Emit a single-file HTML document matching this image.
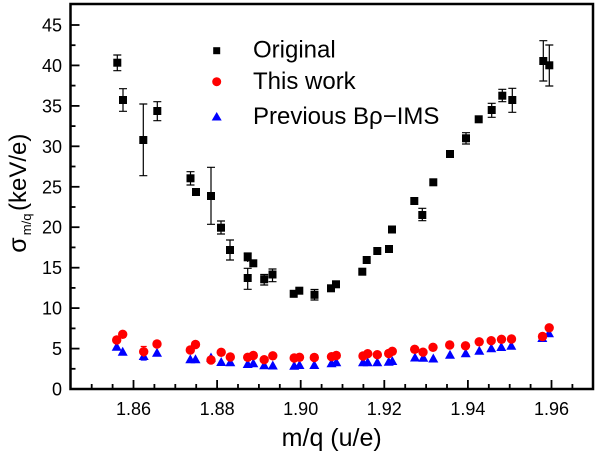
<!DOCTYPE html>
<html><head><meta charset="utf-8"><style>
html,body{margin:0;padding:0;background:#fff;}
svg{display:block;font-family:"Liberation Sans",Arial,sans-serif;}
</style></head><body>
<svg width="600" height="454" viewBox="0 0 600 454" xmlns="http://www.w3.org/2000/svg">
<rect width="600" height="454" fill="#fff"/>
<!-- ticks -->
<g stroke="#000" stroke-width="1.8">
<!-- y major -->
<line x1="70.5" y1="348.6" x2="79.5" y2="348.6"/>
<line x1="70.5" y1="308.1" x2="79.5" y2="308.1"/>
<line x1="70.5" y1="267.7" x2="79.5" y2="267.7"/>
<line x1="70.5" y1="227.2" x2="79.5" y2="227.2"/>
<line x1="70.5" y1="186.8" x2="79.5" y2="186.8"/>
<line x1="70.5" y1="146.3" x2="79.5" y2="146.3"/>
<line x1="70.5" y1="105.9" x2="79.5" y2="105.9"/>
<line x1="70.5" y1="65.4" x2="79.5" y2="65.4"/>
<line x1="70.5" y1="25" x2="79.5" y2="25"/>
<!-- y minor -->
<line x1="70.5" y1="368.8" x2="75.5" y2="368.8"/>
<line x1="70.5" y1="328.4" x2="75.5" y2="328.4"/>
<line x1="70.5" y1="287.9" x2="75.5" y2="287.9"/>
<line x1="70.5" y1="247.4" x2="75.5" y2="247.4"/>
<line x1="70.5" y1="207" x2="75.5" y2="207"/>
<line x1="70.5" y1="166.5" x2="75.5" y2="166.5"/>
<line x1="70.5" y1="126.1" x2="75.5" y2="126.1"/>
<line x1="70.5" y1="85.6" x2="75.5" y2="85.6"/>
<line x1="70.5" y1="45.2" x2="75.5" y2="45.2"/>
<!-- x major -->
<line x1="133.5" y1="389" x2="133.5" y2="380"/>
<line x1="217.1" y1="389" x2="217.1" y2="380"/>
<line x1="300.7" y1="389" x2="300.7" y2="380"/>
<line x1="384.3" y1="389" x2="384.3" y2="380"/>
<line x1="467.9" y1="389" x2="467.9" y2="380"/>
<line x1="551.5" y1="389" x2="551.5" y2="380"/>
<!-- x minor -->
<line x1="91.7" y1="389" x2="91.7" y2="384"/>
<line x1="112.6" y1="389" x2="112.6" y2="384"/>
<line x1="154.4" y1="389" x2="154.4" y2="384"/>
<line x1="175.3" y1="389" x2="175.3" y2="384"/>
<line x1="196.2" y1="389" x2="196.2" y2="384"/>
<line x1="238" y1="389" x2="238" y2="384"/>
<line x1="258.9" y1="389" x2="258.9" y2="384"/>
<line x1="279.8" y1="389" x2="279.8" y2="384"/>
<line x1="321.6" y1="389" x2="321.6" y2="384"/>
<line x1="342.5" y1="389" x2="342.5" y2="384"/>
<line x1="363.4" y1="389" x2="363.4" y2="384"/>
<line x1="405.2" y1="389" x2="405.2" y2="384"/>
<line x1="426.1" y1="389" x2="426.1" y2="384"/>
<line x1="447" y1="389" x2="447" y2="384"/>
<line x1="488.8" y1="389" x2="488.8" y2="384"/>
<line x1="509.7" y1="389" x2="509.7" y2="384"/>
<line x1="530.6" y1="389" x2="530.6" y2="384"/>
<line x1="572.4" y1="389" x2="572.4" y2="384"/>
</g>
<!-- frame -->
<rect x="70.5" y="4" width="522.5" height="385" fill="none" stroke="#000" stroke-width="2.5"/>

<!-- tick labels -->
<g font-size="18" fill="#000" text-anchor="end">
<text x="62" y="395.5">0</text>
<text x="62" y="355.1">5</text>
<text x="62" y="314.6">10</text>
<text x="62" y="274.2">15</text>
<text x="62" y="233.7">20</text>
<text x="62" y="193.3">25</text>
<text x="62" y="152.8">30</text>
<text x="62" y="112.4">35</text>
<text x="62" y="71.9">40</text>
<text x="62" y="31.5">45</text>
</g>
<g font-size="18" fill="#000" text-anchor="middle">
<text x="133.5" y="415">1.86</text>
<text x="217.1" y="415">1.88</text>
<text x="300.7" y="415">1.90</text>
<text x="384.3" y="415">1.92</text>
<text x="467.9" y="415">1.94</text>
<text x="551.5" y="415">1.96</text>
</g>
<!-- axis titles -->
<text x="331.7" y="446" font-size="25" text-anchor="middle" fill="#000">m/q (u/e)</text>
<g transform="translate(26,252.7) rotate(-90)" fill="#000">
<text x="0" y="0" font-size="25">σ</text>
<text x="17.5" y="5" font-size="13">m/q</text>
<text x="41.7" y="0" font-size="24">(keV/e)</text>
</g>

<!-- black error bars -->
<g stroke="#000" stroke-width="1.2" fill="none">
<path d="M117.3 55V70.7M113.3 55H121.3M113.3 70.7H121.3"/>
<path d="M123 88.7V111.3M119 88.7H127M119 111.3H127"/>
<path d="M143.3 104V175.7M139.3 104H147.3M139.3 175.7H147.3"/>
<path d="M157.3 101.7V120.7M153.3 101.7H161.3M153.3 120.7H161.3"/>
<path d="M190.5 171.7V185M186.5 171.7H194.5M186.5 185H194.5"/>
<path d="M211 167.3V224.3M207 167.3H215M207 224.3H215"/>
<path d="M221 221V234M217 221H225M217 234H225"/>
<path d="M230 240V260M226 240H234M226 260H234"/>
<path d="M247.7 253V262M243.7 253H251.7"/>
<path d="M247.7 268.3V289.3M243.7 268.3H251.7M243.7 289.3H251.7"/>
<path d="M264.2 274.5V285M260.2 274.5H268.2M260.2 285H268.2"/>
<path d="M272.5 269V281.7M268.5 269H276.5M268.5 281.7H276.5"/>
<path d="M314.5 289.5V300M310.5 289.5H318.5M310.5 300H318.5"/>
<path d="M422.3 208.3V220.7M418.3 208.3H426.3M418.3 220.7H426.3"/>
<path d="M466 132.7V144M462 132.7H470M462 144H470"/>
<path d="M491.7 103.3V117.3M487.7 103.3H495.7M487.7 117.3H495.7"/>
<path d="M502.3 89.3V101.7M498.3 89.3H506.3M498.3 101.7H506.3"/>
<path d="M512.3 88.3V112.3M508.3 88.3H516.3M508.3 112.3H516.3"/>
<path d="M543.3 40.7V81M539.3 40.7H547.3M539.3 81H547.3"/>
<path d="M549.3 45V86M545.3 45H553.3M545.3 86H553.3"/>
</g>
<!-- black squares -->
<g fill="#000">
<rect x="113.3" y="58.7" width="8" height="8"/>
<rect x="119" y="96" width="8" height="8"/>
<rect x="139.3" y="136" width="8" height="8"/>
<rect x="153.3" y="107" width="8" height="8"/>
<rect x="186.5" y="174.3" width="8" height="8"/>
<rect x="192" y="188" width="8" height="8"/>
<rect x="207" y="192" width="8" height="8"/>
<rect x="217" y="223.7" width="8" height="8"/>
<rect x="226" y="246" width="8" height="8"/>
<rect x="243.7" y="253.3" width="8" height="8"/>
<rect x="249.3" y="259.3" width="8" height="8"/>
<rect x="243.7" y="274" width="8" height="8"/>
<rect x="260.2" y="275.3" width="8" height="8"/>
<rect x="268.5" y="270.5" width="8" height="8"/>
<rect x="289.7" y="289.8" width="8" height="8"/>
<rect x="295.3" y="286.7" width="8" height="8"/>
<rect x="310.5" y="290.8" width="8" height="8"/>
<rect x="327" y="284.3" width="8" height="8"/>
<rect x="332" y="280.3" width="8" height="8"/>
<rect x="358.3" y="267.7" width="8" height="8"/>
<rect x="362.7" y="256" width="8" height="8"/>
<rect x="373.3" y="247" width="8" height="8"/>
<rect x="385" y="245" width="8" height="8"/>
<rect x="388" y="225.5" width="8" height="8"/>
<rect x="410.3" y="197" width="8" height="8"/>
<rect x="418.3" y="211" width="8" height="8"/>
<rect x="429.3" y="178.3" width="8" height="8"/>
<rect x="446" y="150" width="8" height="8"/>
<rect x="462" y="134.3" width="8" height="8"/>
<rect x="474.7" y="115.3" width="8" height="8"/>
<rect x="487.7" y="106" width="8" height="8"/>
<rect x="498.3" y="91.7" width="8" height="8"/>
<rect x="508.3" y="96" width="8" height="8"/>
<rect x="539.3" y="57" width="8" height="8"/>
<rect x="545.3" y="61.3" width="8" height="8"/>
</g>

<!-- blue error bar -->
<path d="M143.7 353V360M140.7 353H146.7M140.7 360H146.7" stroke="#0000ff" stroke-width="1.2" fill="none"/>
<!-- blue triangles -->
<g fill="#0000ff">
<path d="M116.7 341.7l5 9h-10z"/>
<path d="M122.7 346.7l5 9h-10z"/>
<path d="M143.7 351l5 9h-10z"/>
<path d="M157 347.7l5 9h-10z"/>
<path d="M190.3 354.3l5 9h-10z"/>
<path d="M195.5 354.3l5 9h-10z"/>
<path d="M211 352.5l5 9h-10z"/>
<path d="M221.2 357l5 9h-10z"/>
<path d="M230.3 357.3l5 9h-10z"/>
<path d="M247.7 359l5 9h-10z"/>
<path d="M253.3 358.3l5 9h-10z"/>
<path d="M264.2 360.3l5 9h-10z"/>
<path d="M272.8 360.5l5 9h-10z"/>
<path d="M294.2 360.7l5 9h-10z"/>
<path d="M299.5 360l5 9h-10z"/>
<path d="M314.3 360l5 9h-10z"/>
<path d="M331.5 358.3l5 9h-10z"/>
<path d="M336.3 357.3l5 9h-10z"/>
<path d="M363 357.3l5 9h-10z"/>
<path d="M367.7 357.3l5 9h-10z"/>
<path d="M377.3 357.3l5 9h-10z"/>
<path d="M388.7 356.7l5 9h-10z"/>
<path d="M392.3 356l5 9h-10z"/>
<path d="M415 352.5l5 9h-10z"/>
<path d="M423.3 352.7l5 9h-10z"/>
<path d="M433.3 353.5l5 9h-10z"/>
<path d="M450 349.7l5 9h-10z"/>
<path d="M465.7 348.3l5 9h-10z"/>
<path d="M479.3 345.7l5 9h-10z"/>
<path d="M491.3 343.3l5 9h-10z"/>
<path d="M501.3 342l5 9h-10z"/>
<path d="M511.3 340.7l5 9h-10z"/>
<path d="M542.3 333l5 9h-10z"/>
<path d="M549 328.3l5 9h-10z"/>
</g>

<!-- red error bar -->
<path d="M143.7 346.5V357M140.7 346.5H146.7" stroke="#ff0000" stroke-width="1.2" fill="none"/>
<!-- red circles -->
<g fill="#ff0000">
<circle cx="116.7" cy="340" r="4.7"/>
<circle cx="122.7" cy="334.3" r="4.7"/>
<circle cx="143.7" cy="351.7" r="4.7"/>
<circle cx="157" cy="344" r="4.7"/>
<circle cx="190.3" cy="350" r="4.7"/>
<circle cx="195.5" cy="344.5" r="4.7"/>
<circle cx="211" cy="360" r="4.7"/>
<circle cx="221.2" cy="352.3" r="4.7"/>
<circle cx="230.3" cy="357" r="4.7"/>
<circle cx="247.7" cy="357.3" r="4.7"/>
<circle cx="253.3" cy="355.5" r="4.7"/>
<circle cx="264.2" cy="359.7" r="4.7"/>
<circle cx="272.8" cy="355.8" r="4.7"/>
<circle cx="294.2" cy="358" r="4.7"/>
<circle cx="299.5" cy="357.3" r="4.7"/>
<circle cx="314.3" cy="357.5" r="4.7"/>
<circle cx="331.5" cy="356.7" r="4.7"/>
<circle cx="336.3" cy="355.5" r="4.7"/>
<circle cx="363" cy="356" r="4.7"/>
<circle cx="367.7" cy="353.7" r="4.7"/>
<circle cx="377.3" cy="354.7" r="4.7"/>
<circle cx="388.7" cy="353.5" r="4.7"/>
<circle cx="392.3" cy="351.3" r="4.7"/>
<circle cx="414.7" cy="349.3" r="4.7"/>
<circle cx="423" cy="352.2" r="4.7"/>
<circle cx="433" cy="347.3" r="4.7"/>
<circle cx="449.7" cy="345" r="4.7"/>
<circle cx="465.5" cy="345.8" r="4.7"/>
<circle cx="479.2" cy="341.8" r="4.7"/>
<circle cx="491.2" cy="340.7" r="4.7"/>
<circle cx="501.5" cy="339.3" r="4.7"/>
<circle cx="511.5" cy="339" r="4.7"/>
<circle cx="542.5" cy="336.5" r="4.7"/>
<circle cx="549.2" cy="327.8" r="4.7"/>
</g>

<!-- legend -->
<rect x="213.2" y="47.2" width="7" height="7" fill="#000"/>
<circle cx="216.7" cy="81.7" r="4.5" fill="#ff0000"/>
<path d="M216.7 112l5 8.5h-10z" fill="#0000ff"/>
<g font-size="24" fill="#000">
<text x="253" y="57.7">Original</text>
<text x="253" y="89">This work</text>
<text x="253" y="124">Previous Bρ−IMS</text>
</g>
</svg>
</body></html>
